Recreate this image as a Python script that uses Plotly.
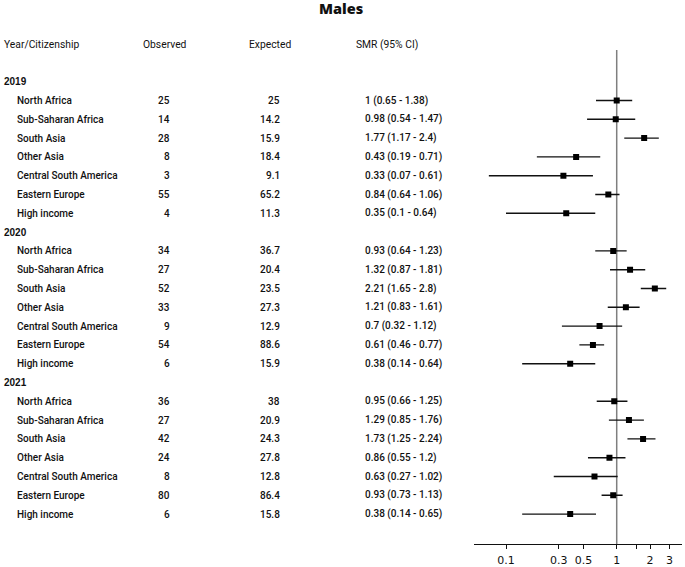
import plotly.graph_objects as go

# ---------------- data ----------------
years = ["2019", "2020", "2021"]
regions = ["North Africa", "Sub-Saharan Africa", "South Asia", "Other Asia",
           "Central South America", "Eastern Europe", "High income"]

observed = {
    "2019": [25, 14, 28, 8, 3, 55, 4],
    "2020": [34, 27, 52, 33, 9, 54, 6],
    "2021": [36, 27, 42, 24, 8, 80, 6],
}
expected = {
    "2019": ["25", "14.2", "15.9", "18.4", "9.1", "65.2", "11.3"],
    "2020": ["36.7", "20.4", "23.5", "27.3", "12.9", "88.6", "15.9"],
    "2021": ["38", "20.9", "24.3", "27.8", "12.8", "86.4", "15.8"],
}
smr = {
    "2019": [1, 0.98, 1.77, 0.43, 0.33, 0.84, 0.35],
    "2020": [0.93, 1.32, 2.21, 1.21, 0.7, 0.61, 0.38],
    "2021": [0.95, 1.29, 1.73, 0.86, 0.63, 0.93, 0.38],
}
ci_low = {
    "2019": [0.65, 0.54, 1.17, 0.19, 0.07, 0.64, 0.1],
    "2020": [0.64, 0.87, 1.65, 0.83, 0.32, 0.46, 0.14],
    "2021": [0.66, 0.85, 1.25, 0.55, 0.27, 0.73, 0.14],
}
ci_high = {
    "2019": [1.38, 1.47, 2.4, 0.71, 0.61, 1.06, 0.64],
    "2020": [1.23, 1.81, 2.8, 1.61, 1.12, 0.77, 0.64],
    "2021": [1.25, 1.76, 2.24, 1.2, 1.02, 1.13, 0.65],
}
headers = ["Year/Citizenship", "Observed", "Expected", "SMR (95% CI)"]
tick_vals = [0.1, 0.3, 0.5, 1, 1.5, 2, 3]
tick_text = ["0.1", "0.3", "0.5", "1", "", "2", "3"]

# ---------------- layout constants ----------------
W, H = 685, 567
ROW0_PX = 81.7      # pixel y of first year header
PITCH = 18.8        # pixel spacing between rows
AXIS_PX = 544       # pixel y of x axis line
TOP_PX = 0


def v_of(px):
    return (px - ROW0_PX) / PITCH


def fmt(v):
    return "%g" % v


ROW_FONT = dict(family="Roboto, Liberation Sans, Arial", size=10, color="#111111", weight=500)
HDR_FONT = dict(family="Roboto, Liberation Sans, Arial", size=10.3, color="#111111")
YEAR_FONT = dict(family="Liberation Sans, Arial", size=10, color="#111111", weight="bold")

fig = go.Figure()
ann = []

seg_x, seg_y = [], []
pt_x, pt_y = [], []
row = 0
for yr in years:
    ann.append(dict(text=yr, x=2 / W, xanchor="left", y=row, font=YEAR_FONT))
    row += 1
    for i, reg in enumerate(regions):
        ann.append(dict(text=reg, x=14.5 / W, xanchor="left", y=row, font=ROW_FONT))
        ann.append(dict(text=str(observed[yr][i]), x=172 / W, xanchor="right", y=row, font=ROW_FONT))
        ann.append(dict(text=expected[yr][i], x=282 / W, xanchor="right", y=row, font=ROW_FONT))
        txt = "%s (%s - %s)" % (fmt(smr[yr][i]), fmt(ci_low[yr][i]), fmt(ci_high[yr][i]))
        ann.append(dict(text=txt, x=363 / W, xanchor="left", y=row, font=ROW_FONT))
        seg_x += [ci_low[yr][i], ci_high[yr][i], None]
        seg_y += [row, row, None]
        pt_x.append(smr[yr][i])
        pt_y.append(row)
        row += 1

hdr_y = v_of(44)
ann.append(dict(text=headers[0], x=2 / W, xanchor="left", y=hdr_y, font=HDR_FONT))
ann.append(dict(text=headers[1], x=165 / W, xanchor="center", y=hdr_y, font=HDR_FONT))
ann.append(dict(text=headers[2], x=270 / W, xanchor="center", y=hdr_y, font=HDR_FONT))
ann.append(dict(text=headers[3], x=354 / W, xanchor="left", y=hdr_y, font=HDR_FONT))
ann.append(dict(text="Males", x=341 / W, xanchor="center", y=v_of(8.5),
                font=dict(family="Open Sans, Liberation Sans", size=14.5, color="#111111", weight=800)))

for a in ann:
    a.update(xref="paper", yref="y", yanchor="middle", showarrow=False)

fig.add_trace(go.Scatter(x=seg_x, y=seg_y, mode="lines",
                         line=dict(color="#111111", width=1.4), hoverinfo="skip"))
fig.add_trace(go.Scatter(x=pt_x, y=pt_y, mode="markers",
                         marker=dict(symbol="square", size=6, color="#000000"), hoverinfo="skip"))

fig.add_shape(type="line", xref="x", yref="y", x0=1, x1=1, y0=v_of(50), y1=v_of(AXIS_PX),
              line=dict(color="#7f7f7f", width=1.5), layer="below")

fig.update_layout(
    width=W, height=H,
    margin=dict(l=0, r=0, t=0, b=0, autoexpand=False),
    paper_bgcolor="white", plot_bgcolor="white",
    showlegend=False,
    annotations=ann,
    xaxis=dict(type="log", domain=[474 / W, 681.7 / W], range=[-1.289, 0.587],
               showgrid=False, zeroline=False, showline=True, linecolor="#111111", linewidth=1.3,
               ticks="outside", ticklen=4, tickwidth=1.2, tickcolor="#111111",
               tickvals=tick_vals, ticktext=tick_text, ticklabelstandoff=2,
               tickfont=dict(family="DejaVu Sans", size=11, color="#111111"),
               anchor="y", fixedrange=True, automargin=False),
    yaxis=dict(domain=[(H - AXIS_PX) / H, 1 - TOP_PX / H],
               range=[v_of(AXIS_PX), v_of(TOP_PX)],
               visible=False, fixedrange=True, automargin=False),
)

fig.write_html("out.html")
